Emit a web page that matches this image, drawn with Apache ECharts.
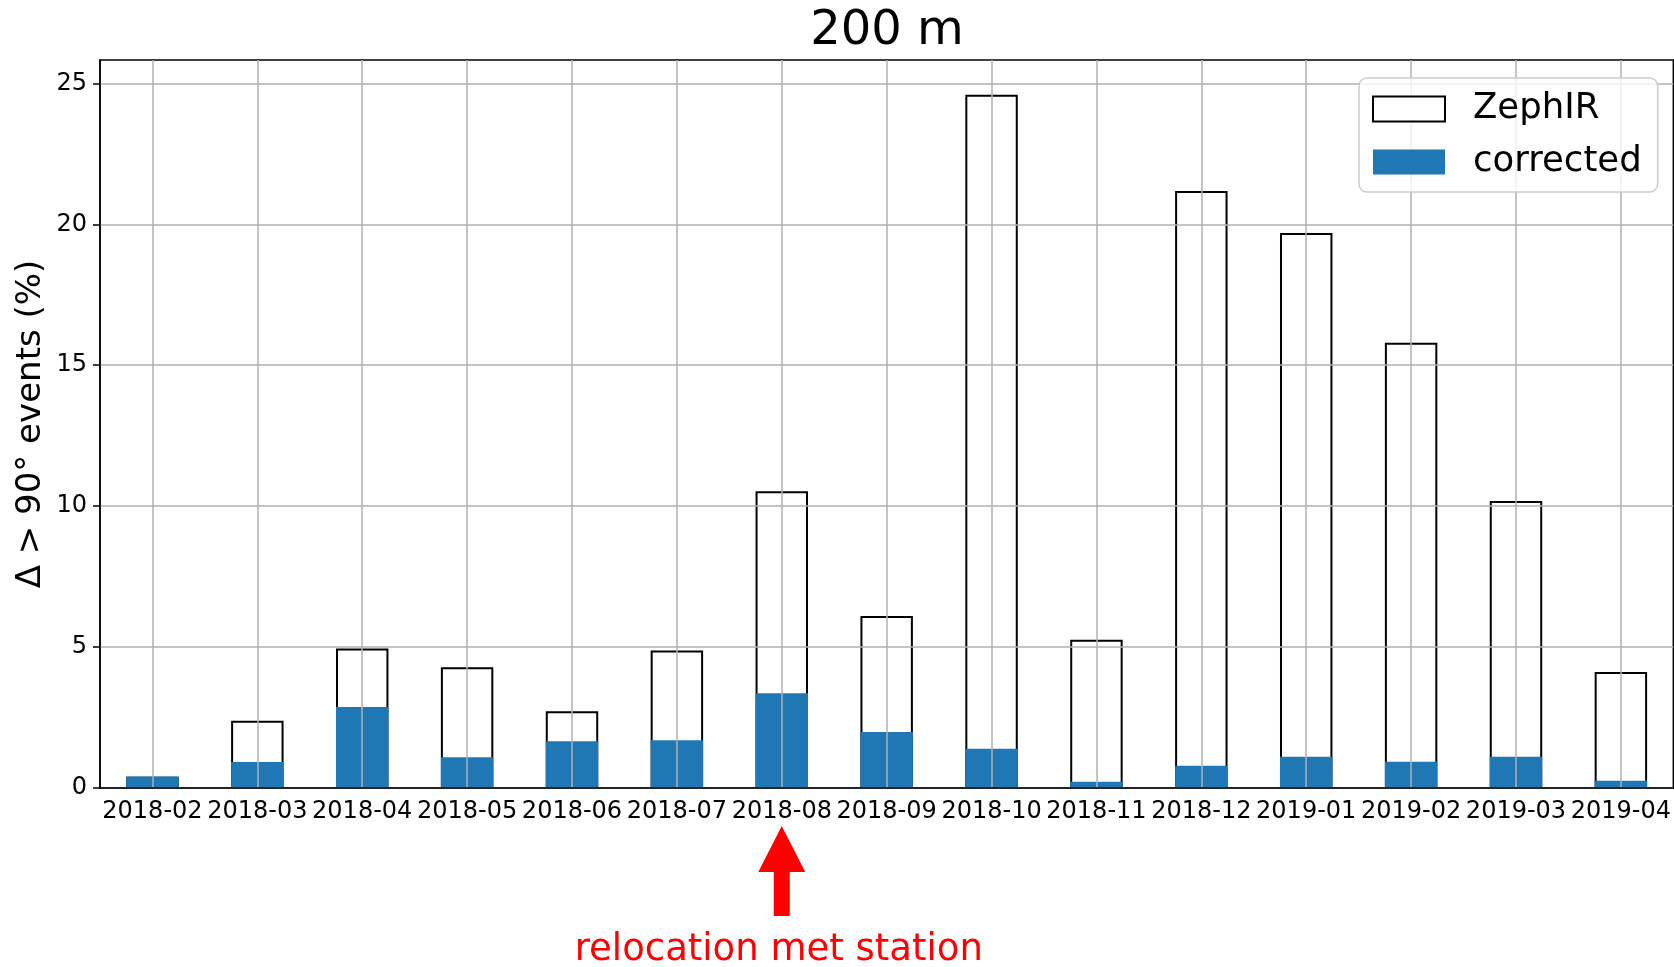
<!DOCTYPE html>
<html><head><meta charset="utf-8">
<script src="https://cdn.jsdelivr.net/npm/echarts@6/dist/echarts.min.js"></script>
<style>html,body{margin:0;padding:0;background:#fff}#c{width:1674px;height:967px}</style>
</head><body><div id="c"></div>
<script>
const categories = ['2018-02','2018-03','2018-04','2018-05','2018-06','2018-07','2018-08','2018-09','2018-10','2018-11','2018-12','2019-01','2019-02','2019-03','2019-04'];
const zephir    = [0.40, 2.39, 4.95, 4.28, 2.72, 4.88, 10.53, 6.10, 24.60, 5.26, 21.18, 19.69, 15.80, 10.18, 4.12];
const corrected = [0.41, 0.92, 2.87, 1.09, 1.66, 1.69, 3.36, 1.99, 1.39, 0.22, 0.79, 1.11, 0.93, 1.11, 0.26];
const yTicks = [0, 5, 10, 15, 20, 25];
const yMax = 25.83;
const titleText = '200 m';
const yTitle = 'Δ > 90° events (%)';
const seriesNames = ['ZephIR', 'corrected'];
const annotationCategory = '2018-08';
const annotationText = 'relocation met station';

const FONT = 'DejaVu Sans';
const GRID = {left: 100, right: 0, top: 60, bottom: 179};
const chart = echarts.init(document.getElementById('c'), null, {renderer: 'canvas'});
const W = 1674;

const option = {
  animation: false,
  backgroundColor: '#fff',
  textStyle: {fontFamily: FONT},
  grid: Object.assign({show: true, borderColor: '#000', borderWidth: 1.5, backgroundColor: 'transparent', containLabel: false}, GRID),
  legend: {
    orient: 'vertical',
    left: 1359, top: 78,
    padding: [13, 16, 12, 13],
    itemGap: 17,
    itemWidth: 72, itemHeight: 25,
    icon: 'rect',
    backgroundColor: 'rgba(255,255,255,0.8)',
    borderColor: '#cccccc', borderWidth: 1.5, borderRadius: 8,
    textStyle: {fontFamily: FONT, fontSize: 35.5, color: '#000', padding: [0, 0, 0, 23]},
    data: seriesNames
  },
  xAxis: {
    type: 'category',
    data: categories,
    z: 3,
    axisLine: {lineStyle: {color: '#000', width: 1.5}},
    axisTick: {alignWithLabel: true, length: 7, lineStyle: {color: '#000', width: 1.5}},
    axisLabel: {color: '#000', fontFamily: FONT, fontSize: 24, margin: 12, interval: 0},
    splitLine: {show: true, alignWithLabel: true, lineStyle: {color: '#b0b0b0', width: 1.5}}
  },
  yAxis: {
    type: 'value',
    min: 0, max: yMax, interval: 5,
    z: 3,
    axisLine: {show: true, lineStyle: {color: '#000', width: 1.5}},
    axisTick: {show: true, length: 7, customValues: yTicks, lineStyle: {color: '#000', width: 1.5}},
    axisLabel: {color: '#000', fontFamily: FONT, fontSize: 24, margin: 13, customValues: yTicks},
    splitLine: {show: true, lineStyle: {color: '#b0b0b0', width: 1.5}}
  },
  series: [
    {
      name: seriesNames[0], type: 'bar', data: zephir, barWidth: '50%', barGap: '-100%',
      itemStyle: {color: '#ffffff', borderColor: '#000', borderWidth: 2}, z: 2
    },
    {
      name: seriesNames[1], type: 'bar', data: corrected, barWidth: '50%', barGap: '-100%',
      itemStyle: {color: '#1f77b4', borderWidth: 0}, z: 2
    }
  ]
};
chart.setOption(option);

const cx = chart.convertToPixel({xAxisIndex: 0}, annotationCategory);
const plotCenterX = GRID.left + (W - GRID.left - GRID.right) / 2;
chart.setOption({
  graphic: [
    {type: 'text', x: plotCenterX, y: 32, style: {text: titleText, font: '48px "DejaVu Sans"', fill: '#000', textAlign: 'center', textVerticalAlign: 'middle'}},
    {type: 'text', x: 31, y: 424, rotation: Math.PI / 2, style: {text: yTitle, font: '34px "DejaVu Sans"', fill: '#000', textAlign: 'center', textVerticalAlign: 'middle'}},
    {type: 'polygon', shape: {points: [[cx, 826], [cx + 23.5, 872], [cx + 8, 872], [cx + 8, 916], [cx - 8, 916], [cx - 8, 872], [cx - 23.5, 872]]}, style: {fill: '#ff0000'}},
    {type: 'text', x: cx - 3, y: 950, style: {text: annotationText, font: '37px "DejaVu Sans"', fill: '#ff0000', textAlign: 'center', textVerticalAlign: 'middle'}}
  ]
});
</script>
</body></html>
